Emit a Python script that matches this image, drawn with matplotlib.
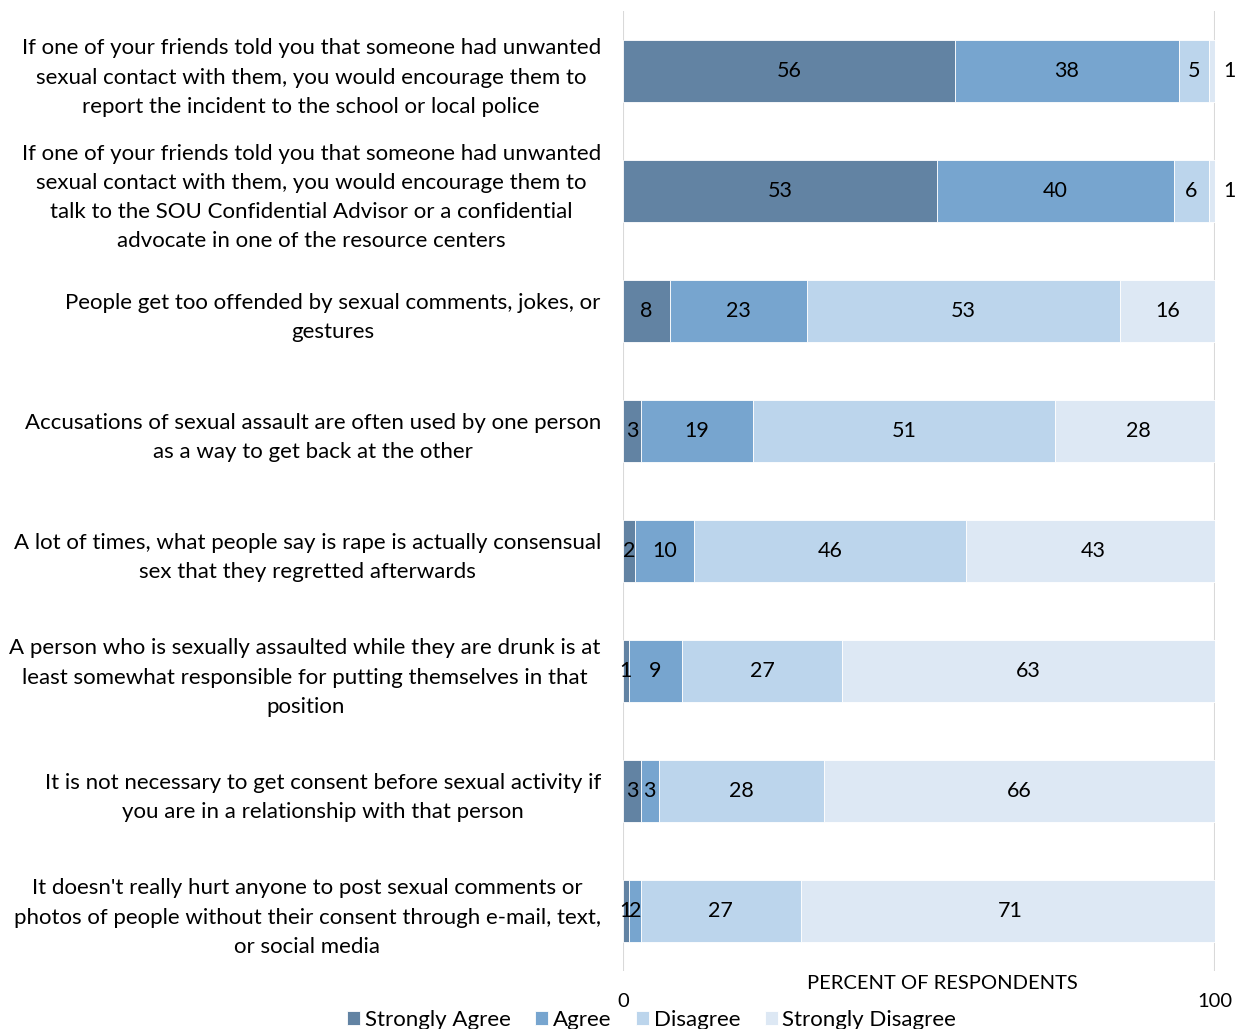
import numpy as np
import matplotlib
matplotlib.use("Agg")
import matplotlib.pyplot as plt

plt.rcParams['font.family'] = ['Lato', 'DejaVu Sans']

# statements, top to bottom
statements = [
    "If one of your friends told you that someone had unwanted\nsexual contact with them, you would encourage them to\nreport the incident to the school or local police",
    "If one of your friends told you that someone had unwanted\nsexual contact with them, you would encourage them to\ntalk to the SOU Confidential Advisor or a confidential\nadvocate in one of the resource centers",
    "People get too offended by sexual comments, jokes, or\ngestures",
    "Accusations of sexual assault are often used by one person\nas a way to get back at the other",
    "A lot of times, what people say is rape is actually consensual\nsex that they regretted afterwards",
    "A person who is sexually assaulted while they are drunk is at\nleast somewhat responsible for putting themselves in that\nposition",
    "It is not necessary to get consent before sexual activity if\nyou are in a relationship with that person",
    "It doesn't really hurt anyone to post sexual comments or\nphotos of people without their consent through e-mail, text,\nor social media",
]

strongly_agree    = [56, 53, 8, 3, 2, 1, 3, 1]
agree             = [38, 40, 23, 19, 10, 9, 3, 2]
disagree          = [5, 6, 53, 51, 46, 27, 28, 27]
strongly_disagree = [1, 1, 16, 28, 43, 63, 66, 71]

series_names = ["Strongly Agree", "Agree", "Disagree", "Strongly Disagree"]
colors = ["#6283A3", "#77A5CF", "#BCD5EC", "#DDE8F4"]

fig = plt.figure(figsize=(12.46, 10.29), dpi=100)
ax = fig.add_axes([0.5, 0.0564, 0.4751, 0.933])

y = np.arange(len(statements))
left = np.zeros(len(statements))
all_series = [strongly_agree, agree, disagree, strongly_disagree]

for k, (vals, name, col) in enumerate(zip(all_series, series_names, colors)):
    vals = np.array(vals, dtype=float)
    ax.barh(y, vals, left=left, height=0.52, color=col, edgecolor='white',
            linewidth=0.6, label=name)
    for i, v in enumerate(vals):
        cx = left[i] + v / 2
        if k == len(all_series) - 1 and v < 3:
            cx = 102.5  # tiny last segment: label sits outside the bar
        ax.text(cx, y[i], f"{int(v)}", ha='center', va='center',
                fontsize=15.5, color='black', clip_on=False)
    left += vals

ax.set_xlim(0, 100)
ax.set_ylim(len(statements) - 0.5, -0.5)
ax.set_xticks([0, 100])
ax.set_yticks(y)
ax.set_yticklabels(statements, fontsize=16, multialignment='center',
                   linespacing=1.58)
ax.tick_params(axis='y', length=0, pad=16)
ax.tick_params(axis='x', length=0, pad=16, labelsize=14.5)

ax.grid(axis='x', color='#D9D9D9', linewidth=1.5)
ax.set_axisbelow(True)
for s in ax.spines.values():
    s.set_visible(False)

ax.set_xlabel("PERCENT OF RESPONDENTS", fontsize=14.5)
ax.xaxis.set_label_coords(0.54, -0.004)

fig.legend(loc='lower center', ncol=4, frameon=False, fontsize=16,
           bbox_to_anchor=(0.523, -0.02), handlelength=0.6, handleheight=0.6,
           handletextpad=0.2, columnspacing=1.1)

fig.savefig("out.png", dpi=100)
